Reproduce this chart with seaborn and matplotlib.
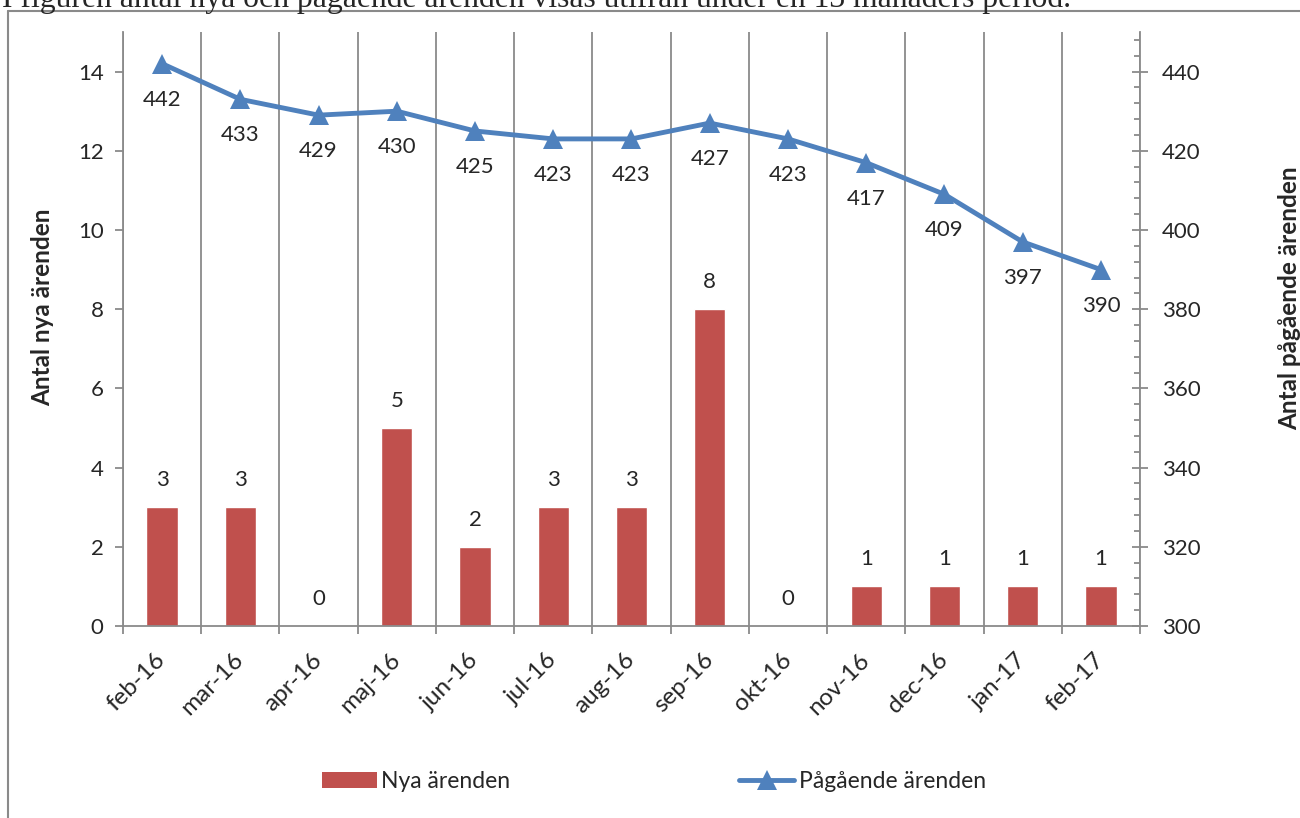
import numpy as np
import seaborn as sns
import matplotlib.pyplot as plt
from matplotlib.lines import Line2D
from matplotlib.patches import Patch
from matplotlib.ticker import MultipleLocator

# data
months = ['feb-16', 'mar-16', 'apr-16', 'maj-16', 'jun-16', 'jul-16', 'aug-16',
          'sep-16', 'okt-16', 'nov-16', 'dec-16', 'jan-17', 'feb-17']
new_cases = [3, 3, 0, 5, 2, 3, 3, 8, 0, 1, 1, 1, 1]
ongoing_cases = [442, 433, 429, 430, 425, 423, 423, 427, 423, 417, 409, 397, 390]

caption = 'I figuren antal nya och pågående ärenden visas utifrån under en 13 månaders period.'

RED = '#C0504D'
BLUE = '#4F81BD'
GRID = '#8a8a8a'

sns.set_theme(style='white')
plt.rcParams['font.family'] = ['Lato', 'DejaVu Sans']

fig = plt.figure(figsize=(13, 8.18), dpi=100)
ax = fig.add_axes([0.0946, 0.2347, 0.7823, 0.7262])

# bars for new cases
sns.barplot(x=months, y=new_cases, ax=ax, color=RED, width=0.4, saturation=1)
ax.set_ylim(0, 15)
ax.set_xlim(-0.5, len(months) - 0.5)
ax.yaxis.set_major_locator(MultipleLocator(2))
ax.set_xticks(np.arange(-0.5, len(months), 1), minor=True)
ax.grid(which='minor', axis='x', color=GRID, lw=1.3)
ax.grid(which='major', visible=False)
ax.set_axisbelow(True)
ax.tick_params(axis='x', which='major', length=0, pad=22, labelsize=17.5)
ax.tick_params(axis='x', which='minor', length=6, width=1.3, color=GRID, direction='out', bottom=True)
ax.tick_params(axis='y', which='major', length=6, width=1.3, color=GRID, direction='out', left=True, labelsize=16, pad=8)
for lbl in ax.get_xticklabels():
    lbl.set_rotation(45)
    lbl.set_ha('right')
    lbl.set_va('center')
    lbl.set_rotation_mode('anchor')
ax.set_xlabel('')
ax.set_ylabel('')
for side in ['left', 'bottom']:
    ax.spines[side].set_color(GRID)
    ax.spines[side].set_linewidth(1.3)
ax.spines['top'].set_visible(False)
ax.spines['right'].set_visible(False)

for i, v in enumerate(new_cases):
    ax.annotate(str(v), (i, v), xytext=(0, 19.5), textcoords='offset points',
                ha='center', va='center', fontsize=16)

# line for ongoing cases
ax2 = ax.twinx()
sns.lineplot(x=np.arange(len(months)), y=ongoing_cases, ax=ax2, color=BLUE,
             lw=3.5, marker='^', markersize=15, markeredgewidth=0)
ax2.set_ylim(300, 450)
ax2.yaxis.set_major_locator(MultipleLocator(20))
ax2.yaxis.set_minor_locator(MultipleLocator(4))
ax2.tick_params(axis='y', which='major', length=12, width=1.3, color=GRID, direction='inout', right=True, labelsize=16, pad=10)
ax2.tick_params(axis='y', which='minor', length=4.5, width=1.3, color=GRID, direction='in', right=True)
ax2.grid(False)
ax2.set_ylabel('')
for side in ['left', 'top', 'bottom']:
    ax2.spines[side].set_visible(False)
ax2.spines['right'].set_color(GRID)
ax2.spines['right'].set_linewidth(1.3)

for i, v in enumerate(ongoing_cases):
    ax2.annotate(str(v), (i, v), xytext=(0, -26), textcoords='offset points',
                 ha='center', va='center', fontsize=16)

# axis titles
fig.text(43 / 1300, 1 - 307 / 818, 'Antal nya ärenden', rotation=90, ha='center', va='center',
         fontsize=17.5, fontweight='bold')
fig.text(1290 / 1300, 1 - 298 / 818, 'Antal pågående ärenden', rotation=90, ha='center', va='center',
         fontsize=17.5, fontweight='bold')

# legend
handles = [Patch(facecolor=RED, edgecolor='none'),
           Line2D([], [], color=BLUE, lw=3.5, marker='^', markersize=14, markeredgewidth=0)]
fig.legend(handles, ['Nya ärenden', 'Pågående ärenden'], loc='center',
           bbox_to_anchor=(0.503, 0.045), ncol=2, frameon=False, fontsize=16.5,
           handlelength=2.4, handletextpad=0.2, columnspacing=10.0)

# chart frame and the cut-off caption line above it
fig.add_artist(Line2D([8 / 1300, 1], [1 - 11 / 818] * 2, transform=fig.transFigure, color=GRID, lw=1.5))
fig.add_artist(Line2D([8 / 1300] * 2, [0, 1 - 11 / 818], transform=fig.transFigure, color=GRID, lw=1.5))
fig.text(2 / 1300, 1 - 7 / 818, caption, family=['Liberation Serif', 'DejaVu Serif'],
         fontsize=22.8, va='baseline')

fig.savefig('out.png', dpi=100)
